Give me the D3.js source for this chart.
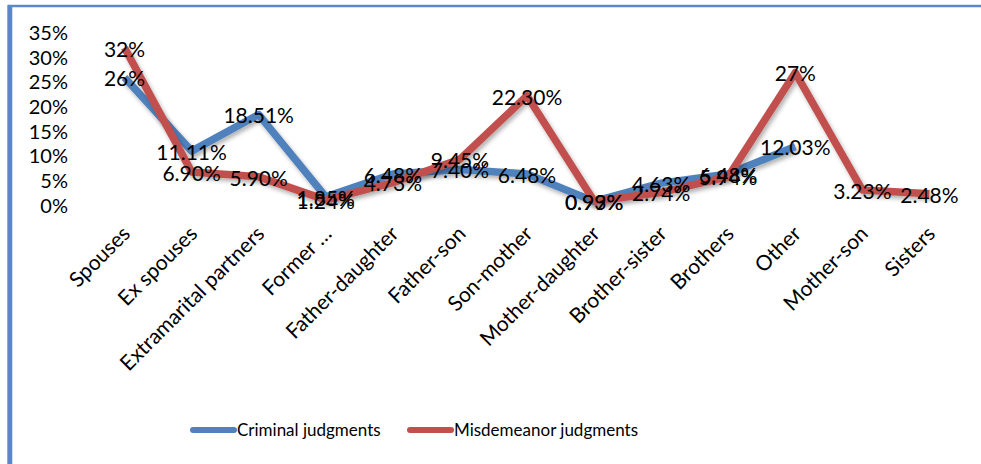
<!DOCTYPE html>
<html>
<head>
<meta charset="utf-8">
<script src="https://cdn.jsdelivr.net/npm/d3@7"></script>
<style>
  body { margin: 0; background: #fff; }
  svg { display: block; font-family: Lato, "Open Sans", sans-serif; }
</style>
</head>
<body>
<div id="chart"></div>
<script>
// chart data
var categories = ["Spouses", "Ex spouses", "Extramarital partners", "Former …", "Father-daughter",
  "Father-son", "Son-mother", "Mother-daughter", "Brother-sister", "Brothers", "Other",
  "Mother-son", "Sisters"];
var criminal = [0.26, 0.1111, 0.1851, 0.0185, 0.0648, 0.074, 0.0648, 0.0093, 0.0463, 0.0648, 0.1203];
var criminalLabels = ["26%", "11.11%", "18.51%", "1.85%", "6.48%", "7.40%", "6.48%", "0.93%", "4.63%", "6.48%", "12.03%"];
var misdemeanor = [0.32, 0.069, 0.059, 0.0124, 0.0473, 0.0945, 0.223, 0.0099, 0.0274, 0.0594, 0.27, 0.0323, 0.0248];
var misdemeanorLabels = ["32%", "6.90%", "5.90%", "1.24%", "4.73%", "9.45%", "22.30%", "0.99%", "2.74%", "5.94%", "27%", "3.23%", "2.48%"];
var yTicks = [0, 0.05, 0.1, 0.15, 0.2, 0.25, 0.3, 0.35];
var seriesNames = ["Criminal judgments", "Misdemeanor judgments"];
var seriesColors = ["#4F81BD", "#C0504D"];

var svgWidth = 981;
var svgHeight = 464;

var plot = { left: 91, right: 963, top: 33, bottom: 206 };

var svg = d3.select("#chart")
  .append("svg")
  .attr("width", svgWidth)
  .attr("height", svgHeight);

// soft shadow under the lines
var defs = svg.append("defs");
var shadow = defs.append("filter")
  .attr("id", "shadow")
  .attr("x", "-10%").attr("y", "-10%")
  .attr("width", "120%").attr("height", "130%");
shadow.append("feDropShadow")
  .attr("dx", 2).attr("dy", 3)
  .attr("stdDeviation", 2)
  .attr("flood-color", "#000")
  .attr("flood-opacity", 0.3);

// frame of the page (left and top blue rules)
svg.append("line")
  .attr("x1", 9.8).attr("x2", 9.8)
  .attr("y1", 5).attr("y2", svgHeight)
  .attr("stroke", "#5B87C6").attr("stroke-width", 5);
svg.append("line")
  .attr("x1", 8).attr("x2", svgWidth)
  .attr("y1", 6).attr("y2", 6)
  .attr("stroke", "#5B87C6").attr("stroke-width", 2.5);

var xScale = d3.scaleBand()
  .domain(categories)
  .range([plot.left, plot.right]);

var yScale = d3.scaleLinear()
  .domain([0, 0.35])
  .range([plot.bottom, plot.top]);

var cx = function(i) { return xScale(categories[i]) + xScale.bandwidth() / 2; };

// gridlines
svg.append("g")
  .selectAll("line")
  .data(yTicks)
  .enter()
  .append("line")
  .attr("x1", plot.left)
  .attr("x2", plot.right)
  .attr("y1", d => yScale(d))
  .attr("y2", d => yScale(d))
  .attr("stroke", "#d9d9d9")
  .attr("stroke-width", 2)
  .attr("filter", "url(#shadow)");

// y axis labels
var leftAxis = d3.axisLeft(yScale)
  .tickValues(yTicks)
  .tickFormat(d3.format(".0%"))
  .tickSize(0)
  .tickPadding(0);
var yAxis = svg.append("g")
  .attr("transform", "translate(68,0)")
  .call(leftAxis);
yAxis.select(".domain").remove();
yAxis.selectAll("text")
  .attr("font-family", "Lato, sans-serif")
  .attr("font-size", 20)
  .attr("fill", "#000");

// category labels
svg.append("g")
  .selectAll("text")
  .data(categories)
  .enter()
  .append("text")
  .attr("transform", (d, i) => "translate(" + (cx(i) + 7) + ",235) rotate(-45)")
  .attr("text-anchor", "end")
  .attr("font-size", 21)
  .attr("fill", "#000")
  .text(d => d);

// lines
var line = d3.line()
  .x((d, i) => cx(i))
  .y(d => yScale(d));

var allSeries = [criminal, misdemeanor];
svg.append("g")
  .selectAll("path")
  .data(allSeries)
  .enter()
  .append("path")
  .attr("d", d => line(d))
  .attr("fill", "none")
  .attr("stroke", (d, i) => seriesColors[i])
  .attr("stroke-width", 7.5)
  .attr("stroke-linejoin", "round")
  .attr("filter", "url(#shadow)");

// data labels
var labelSets = [criminalLabels, misdemeanorLabels];
labelSets.forEach(function(labels, s) {
  svg.append("g")
    .selectAll("text")
    .data(labels)
    .enter()
    .append("text")
    .attr("x", (d, i) => cx(i))
    .attr("y", (d, i) => yScale(allSeries[s][i]))
    .attr("dy", "0.42em")
    .attr("text-anchor", "middle")
    .attr("font-size", 21)
    .attr("fill", "#000")
    .text(d => d);
});

// legend
var legendX = [193, 410];
var legend = svg.append("g")
  .selectAll("g")
  .data(seriesNames)
  .enter()
  .append("g")
  .attr("transform", (d, i) => "translate(" + legendX[i] + ",430)");
legend.append("line")
  .attr("x1", 0).attr("x2", 41)
  .attr("y1", 0).attr("y2", 0)
  .attr("stroke", (d, i) => seriesColors[i])
  .attr("stroke-width", 6)
  .attr("stroke-linecap", "round");
legend.append("text")
  .attr("x", 44)
  .attr("y", 6)
  .attr("font-size", 17)
  .attr("fill", "#000")
  .text(d => d);
</script>
</body>
</html>
